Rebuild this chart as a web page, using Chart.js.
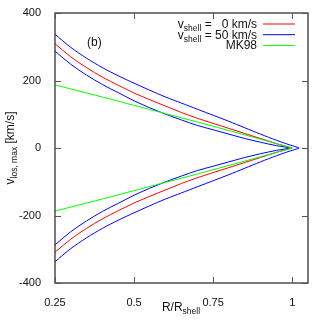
<!DOCTYPE html>
<html>
<head>
<meta charset="utf-8">
<script src="https://cdn.jsdelivr.net/npm/chart.js@4.4.0/dist/chart.umd.min.js"></script>
<style>
  html, body { margin: 0; padding: 0; background: #fff; }
  #wrap { width: 327px; height: 327px; }
</style>
</head>
<body>
<div id="wrap"><canvas id="c" width="327" height="327"></canvas></div>
<script>
// R/R_shell sample points and upper-branch v_los,max values (km/s); the lower branch is the mirror
const xTicks = [0.25, 0.5, 0.75, 1];
const yTicks = [-400, -200, 0, 200, 400];

const rRed = [0.25, 0.3, 0.35, 0.4, 0.45, 0.5, 0.55, 0.6, 0.65, 0.7, 0.75, 0.8, 0.85, 0.9, 0.95, 1.0];
const vRed = [309, 270, 238, 210, 186, 163, 143, 124, 105, 88, 73, 58, 43, 28, 13, 0];

const rBlueOut = [0.25, 0.3, 0.35, 0.4, 0.45, 0.5, 0.55, 0.6, 0.65, 0.7, 0.75, 0.8, 0.85, 0.9, 0.95, 0.98, 1.0, 1.012, 1.019, 1.022];
const vBlueOut = [337, 298, 266, 238, 214, 192, 171, 151, 133, 115, 97, 79, 60, 41, 23, 13, 7, 3.5, 1.5, 0];

const rBlueIn = [0.25, 0.3, 0.35, 0.4, 0.45, 0.5, 0.55, 0.6, 0.65, 0.7, 0.75, 0.8, 0.85, 0.9, 0.95, 0.996];
const vBlueIn = [287, 248, 216, 188, 164, 140, 119, 100, 83, 67, 54, 41, 28, 17, 7, 0];

const rMK = [0.25, 0.4, 0.55, 0.7, 0.85, 1.0];
const vMK = [187, 151, 114, 77, 39, 0];

const branch = (rs, vs, sign) => rs.map((r, i) => ({ x: r, y: sign * vs[i] }));

// upper branch from left to tip, then lower branch back out
function vee(rs, vs) {
  return branch(rs, vs, 1).concat(branch(rs, vs, -1).slice(0, -1).reverse());
}

const legendRows = [
  { sub: 'shell', rest: ' =   0 km/s', color: '#ff0000' },
  { sub: 'shell', rest: ' = 50 km/s', color: '#0000ff' },
  { plain: 'MK98', color: '#00ff00' }
];

const FONT = '"Liberation Sans", Arial, sans-serif';

const decor = {
  id: 'decor',
  afterDraw(chart) {
    const { ctx, chartArea: a, scales } = chart;
    ctx.save();
    // frame
    ctx.strokeStyle = '#333';
    ctx.lineWidth = 1.3;
    ctx.strokeRect(a.left, a.top, a.right - a.left, a.bottom - a.top);
    // inward ticks on all four sides
    ctx.lineWidth = 1;
    ctx.strokeStyle = '#555';
    ctx.beginPath();
    xTicks.forEach(v => {
      const px = Math.round(scales.x.getPixelForValue(v)) + 0.5;
      ctx.moveTo(px, a.bottom); ctx.lineTo(px, a.bottom - 6);
      ctx.moveTo(px, a.top); ctx.lineTo(px, a.top + 6);
    });
    yTicks.forEach(v => {
      const py = Math.round(scales.y.getPixelForValue(v)) + 0.5;
      ctx.moveTo(a.left, py); ctx.lineTo(a.left + 6, py);
      ctx.moveTo(a.right, py); ctx.lineTo(a.right - 6, py);
    });
    ctx.stroke();

    ctx.fillStyle = '#111';
    ctx.textBaseline = 'alphabetic';
    // panel tag
    ctx.font = '12px ' + FONT;
    ctx.textAlign = 'left';
    ctx.fillText('(b)', 87, 46);

    // legend, text right-aligned against the sample lines
    const textRight = 257, lineL = 263, lineR = 295;
    legendRows.forEach((row, i) => {
      const y = 28 + i * 10.7;
      ctx.textAlign = 'left';
      if (row.plain) {
        ctx.font = '12px ' + FONT;
        const w = ctx.measureText(row.plain).width;
        ctx.fillText(row.plain, textRight - w, y);
      } else {
        ctx.font = '12px ' + FONT;
        const wv = ctx.measureText('v').width;
        const wr = ctx.measureText(row.rest).width;
        ctx.font = '8.5px ' + FONT;
        const ws = ctx.measureText(row.sub).width;
        let x = textRight - wv - ws - wr;
        ctx.font = '12px ' + FONT;
        ctx.fillText('v', x, y);
        ctx.font = '8.5px ' + FONT;
        ctx.fillText(row.sub, x + wv, y + 3);
        ctx.font = '12px ' + FONT;
        ctx.fillText(row.rest, x + wv + ws, y);
      }
      ctx.strokeStyle = row.color;
      ctx.lineWidth = 1;
      ctx.beginPath();
      ctx.moveTo(lineL, y - 4);
      ctx.lineTo(lineR, y - 4);
      ctx.stroke();
    });

    // x title: R/R_shell
    ctx.font = '12px ' + FONT;
    const t1 = 'R/R';
    const w1 = ctx.measureText(t1).width;
    ctx.font = '8.5px ' + FONT;
    const w2 = ctx.measureText('shell').width;
    let xs = 181 - (w1 + w2) / 2;
    ctx.font = '12px ' + FONT;
    ctx.fillText(t1, xs, 311);
    ctx.font = '8.5px ' + FONT;
    ctx.fillText('shell', xs + w1, 314);

    // y title: v_los, max [km/s]
    ctx.translate(14, 148);
    ctx.rotate(-Math.PI / 2);
    ctx.font = '12px ' + FONT;
    const a1 = ctx.measureText('v').width;
    const a3 = ctx.measureText(' [km/s]').width;
    ctx.font = '8.5px ' + FONT;
    const a2 = ctx.measureText('los, max').width;
    let ys = -(a1 + a2 + a3) / 2;
    ctx.font = '12px ' + FONT;
    ctx.fillText('v', ys, 0);
    ctx.font = '8.5px ' + FONT;
    ctx.fillText('los, max', ys + a1, 3);
    ctx.font = '12px ' + FONT;
    ctx.fillText(' [km/s]', ys + a1 + a2, 0);
    ctx.restore();
  }
};

const line = (data, color, extra) => Object.assign({
  data, borderColor: color, borderWidth: 1, showLine: true,
  pointRadius: 0, tension: 0, fill: false
}, extra || {});
const smooth = { cubicInterpolationMode: 'monotone' };

new Chart(document.getElementById('c'), {
  type: 'scatter',
  data: {
    datasets: [
      line(branch(rMK, vMK, 1), '#00ff00'),
      line(branch(rMK, vMK, -1), '#00ff00'),
      line(branch(rRed, vRed, 1), '#ff0000', smooth),
      line(branch(rRed, vRed, -1), '#ff0000', smooth),
      line(vee(rBlueOut, vBlueOut), '#0000ff', { tension: 0.3 }),
      line(branch(rBlueIn, vBlueIn, 1), '#0000ff', smooth),
      line(branch(rBlueIn, vBlueIn, -1), '#0000ff', smooth)
    ]
  },
  options: {
    responsive: false,
    animation: false,
    layout: { padding: { top: 13, right: 19, left: 0, bottom: 0 } },
    plugins: { legend: { display: false }, tooltip: { enabled: false } },
    scales: {
      x: {
        type: 'linear', min: 0.25, max: 1.05,
        afterBuildTicks: s => { s.ticks = xTicks.map(v => ({ value: v })); },
        afterFit: s => { s.height = 44; },
        grid: { display: false }, border: { display: false },
        ticks: { padding: 5, color: '#111', font: { family: FONT, size: 11 }, maxRotation: 0, callback: v => String(v) }
      },
      y: {
        type: 'linear', min: -400, max: 400,
        afterBuildTicks: s => { s.ticks = yTicks.map(v => ({ value: v })); },
        afterFit: s => { s.width = 55; },
        grid: { display: false }, border: { display: false },
        ticks: { padding: 6, color: '#111', font: { family: FONT, size: 11 }, callback: v => String(v) }
      }
    }
  },
  plugins: [decor]
});
</script>
</body>
</html>
